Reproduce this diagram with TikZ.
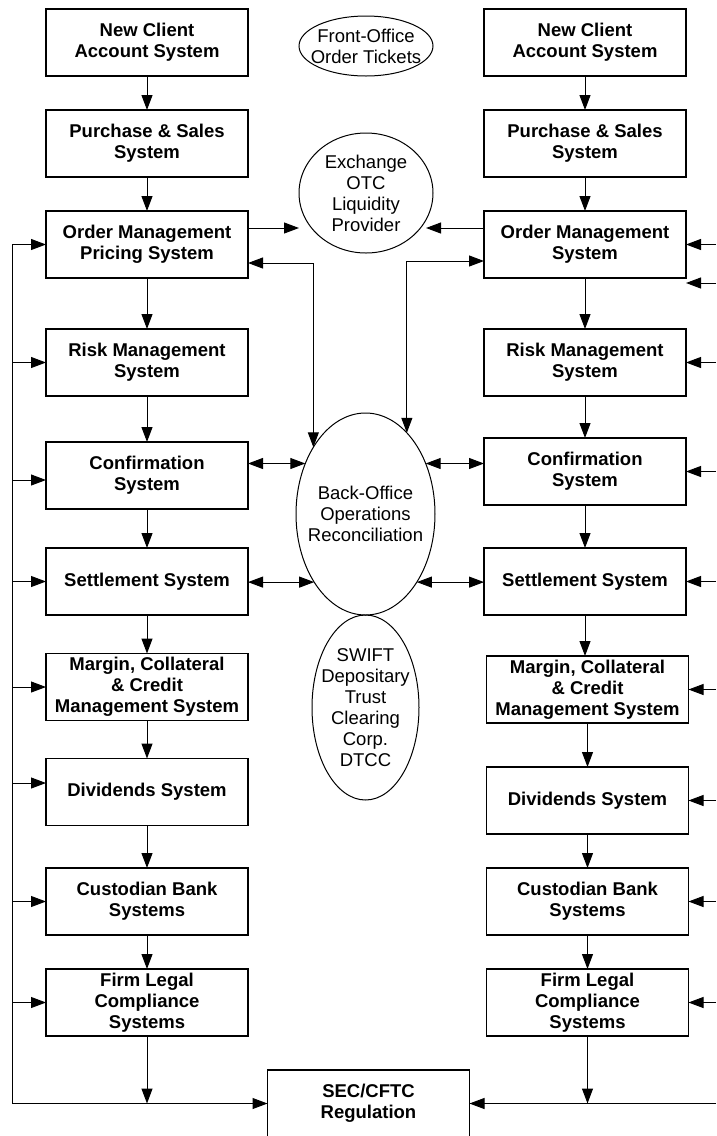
\documentclass[tikz,border=0pt]{standalone}
\usepackage{fontspec}
\setmainfont{Liberation Sans}
\usetikzlibrary{arrows.meta,shapes.geometric}
\tikzset{
    sys_box/.style = {
        draw=black,
        line width=1.2pt,
        minimum width=202pt,
        minimum height=67pt,
        inner sep=0pt,
        outer sep=0pt,
        align=center,
        font=\fontsize{18.5}{21}\selectfont\bfseries
    },
    hub_oval/.style = {
        ellipse,
        draw=black,
        line width=1pt,
        inner xsep=-12pt,
        inner ysep=-2pt,
        outer sep=0pt,
        align=center,
        font=\fontsize{18.5}{21}\selectfont
    },
    flow_line/.style = {
        draw=black,
        line width=1pt
    },
    flow_arrow/.style = {
        flow_line,
        -{Triangle[length=15pt,width=11pt]}
    },
    both_arrow/.style = {
        flow_line,
        {Triangle[length=15pt,width=11pt]}-{Triangle[length=15pt,width=11pt]}
    },
}
\begin{document}
\begin{tikzpicture}[x=1pt, y=-1pt]
                \useasboundingbox (0, 0) rectangle (716, 1136);
                \coordinate (rail_l) at (12, 0);
                \coordinate (rail_r) at (716, 0);

                \node[sys_box] (nca_l) at (147, 42.5) {New Client\\Account System};
                \node[sys_box] (pss_l) at (147, 143.5) {Purchase \& Sales\\System};
                \node[sys_box] (oms_l) at (147, 244.5) {Order Management\\Pricing System};
                \node[sys_box] (rms_l) at (147, 362.5) {Risk Management\\System};
                \node[sys_box] (conf_l) at (147, 475.5) {Confirmation\\System};
                \node[sys_box] (sett_l) at (147, 581.5) {Settlement System};
                \node[sys_box] (marg_l) at (147, 687) {Margin, Collateral\\\& Credit\\Management System};
                \node[sys_box] (div_l) at (147, 792) {Dividends System};
                \node[sys_box] (cust_l) at (147, 901.5) {Custodian Bank\\Systems};
                \node[sys_box] (flc_l) at (147, 1002.5) {Firm Legal\\Compliance\\Systems};

                \node[sys_box] (nca_r) at (585, 42.5) {New Client\\Account System};
                \node[sys_box] (pss_r) at (585, 143.5) {Purchase \& Sales\\System};
                \node[sys_box] (oms_r) at (585, 244.5) {Order Management\\System};
                \node[sys_box] (rms_r) at (585, 362.5) {Risk Management\\System};
                \node[sys_box] (conf_r) at (585, 471.5) {Confirmation\\System};
                \node[sys_box] (sett_r) at (585, 581.5) {Settlement System};
                \node[sys_box] (marg_r) at (587.5, 689.5) {Margin, Collateral\\\& Credit\\Management System};
                \node[sys_box] (div_r) at (587.5, 800.5) {Dividends System};
                \node[sys_box] (cust_r) at (587.5, 901.5) {Custodian Bank\\Systems};
                \node[sys_box] (flc_r) at (587.5, 1002.5) {Firm Legal\\Compliance\\Systems};

                \node[hub_oval, minimum width=134pt, minimum height=60pt] (fo) at (366, 46) {Front-Office\\Order Tickets};
                \node[hub_oval, minimum width=134pt, minimum height=120pt] (exch) at (366, 193) {Exchange\\OTC\\Liquidity\\Provider};
                \node[hub_oval, minimum width=139pt, minimum height=202pt] (bo) at (365.5, 514) {Back-Office\\Operations\\Reconciliation};
                \node[hub_oval, minimum width=107pt, minimum height=185pt] (swift) at (365.5, 707.5) {SWIFT\\Depositary\\Trust\\Clearing\\Corp.\\DTCC};
                \node[sys_box] (sec) at (368.5, 1103.5) {SEC/CFTC\\Regulation};

                \coordinate (oms_l_out) at ([yshift=16.5pt]oms_l.east);
                \coordinate (oms_r_out) at ([yshift=16.5pt]oms_r.west);
                \coordinate (exch_r) at ([xshift=-7pt]exch.east);
                \coordinate (oms_l_back) at ([yshift=-18.5pt]oms_l.east);
                \coordinate (oms_r_back) at ([yshift=-16.5pt]oms_r.west);
                \coordinate (oms_r_low) at ([yshift=-38.5pt]oms_r.east);
                \coordinate (conf_l_in) at ([yshift=-4.5pt]conf_l.west);
                \coordinate (div_l_in) at ([yshift=9pt]div_l.west);

                \draw[flow_arrow] (nca_l) -- (pss_l);
                \draw[flow_arrow] (pss_l) -- (oms_l);
                \draw[flow_arrow] (oms_l) -- (rms_l);
                \draw[flow_arrow] (rms_l) -- (conf_l);
                \draw[flow_arrow] (conf_l) -- (sett_l);
                \draw[flow_arrow] (sett_l) -- (marg_l);
                \draw[flow_arrow] (marg_l) -- (div_l);
                \draw[flow_arrow] (div_l) -- (cust_l);
                \draw[flow_arrow] (cust_l) -- (flc_l);
                \draw[flow_arrow] (flc_l.south) -- (flc_l.south |- sec.west);

                \draw[flow_arrow] (nca_r) -- (pss_r);
                \draw[flow_arrow] (pss_r) -- (oms_r);
                \draw[flow_arrow] (oms_r) -- (rms_r);
                \draw[flow_arrow] (rms_r) -- (conf_r);
                \draw[flow_arrow] (conf_r) -- (sett_r);
                \draw[flow_arrow] (sett_r.south) -- (sett_r.south |- marg_r.north);
                \draw[flow_arrow] (marg_r) -- (div_r);
                \draw[flow_arrow] (div_r) -- (cust_r);
                \draw[flow_arrow] (cust_r) -- (flc_r);
                \draw[flow_arrow] (flc_r.south) -- (flc_r.south |- sec.east);

                \draw[flow_arrow] (oms_l_out) -- (oms_l_out -| exch.west);
                \draw[flow_arrow] (oms_r_out) -- (oms_r_out -| exch_r);
                \draw[both_arrow] (oms_l_back) -| (bo.128);
                \draw[both_arrow] (oms_r_back) -| (bo.63);
                \draw[both_arrow] (bo.140 -| conf_l.east) -- (bo.140);
                \draw[both_arrow] (bo.40) -- (bo.40 -| conf_r.west);
                \draw[both_arrow] (bo.233 -| sett_l.east) -- (bo.233);
                \draw[both_arrow] (bo.307) -- (bo.307 -| sett_r.west);

                \draw[flow_arrow] (rail_l |- sec.west) |- (oms_l.west);
                \draw[flow_arrow] (rail_l |- sec.west) -- (sec.west);
                \draw[flow_arrow] (rail_l |- rms_l.west) -- (rms_l.west);
                \draw[flow_arrow] (rail_l |- conf_l_in) -- (conf_l_in);
                \draw[flow_arrow] (rail_l |- sett_l.west) -- (sett_l.west);
                \draw[flow_arrow] (rail_l |- marg_l.west) -- (marg_l.west);
                \draw[flow_arrow] (rail_l |- div_l_in) -- (div_l_in);
                \draw[flow_arrow] (rail_l |- cust_l.west) -- (cust_l.west);
                \draw[flow_arrow] (rail_l |- flc_l.west) -- (flc_l.west);

                \draw[flow_arrow] (rail_r |- oms_r.east) -- (oms_r.east);
                \draw[flow_arrow] (rail_r |- oms_r_low) -- (oms_r_low);
                \draw[flow_arrow] (rail_r |- rms_r.east) -- (rms_r.east);
                \draw[flow_arrow] (rail_r |- conf_r.east) -- (conf_r.east);
                \draw[flow_arrow] (rail_r |- sett_r.east) -- (sett_r.east);
                \draw[flow_arrow] (rail_r |- marg_r.east) -- (marg_r.east);
                \draw[flow_arrow] (rail_r |- div_r.east) -- (div_r.east);
                \draw[flow_arrow] (rail_r |- cust_r.east) -- (cust_r.east);
                \draw[flow_arrow] (rail_r |- flc_r.east) -- (flc_r.east);
                \draw[flow_arrow] (rail_r |- sec.east) -- (sec.east);
            \end{tikzpicture}
\end{document}
